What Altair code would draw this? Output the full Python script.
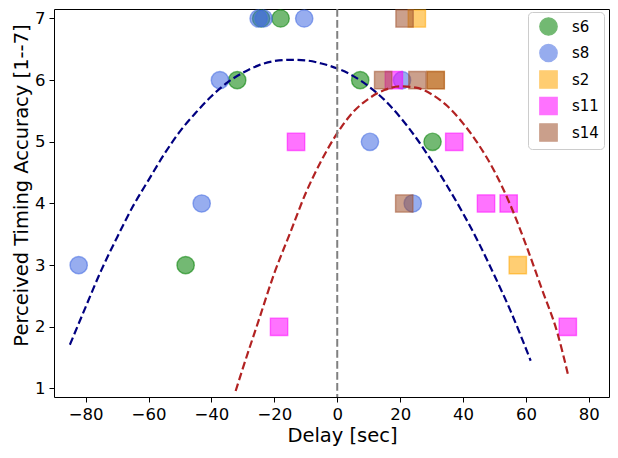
import altair as alt
import pandas as pd

# ---- data ----
series_order = ["s6", "s8", "s2", "s11", "s14"]
series_colors = ["#008000", "#4169e1", "#ffa500", "#ff00ff", "#a0522d"]
series_shapes = ["circle", "circle", "square", "square", "square"]

s6_x = [-24.2, -18.0, -31.8, -48.2, 7.3, 30.3]
s6_y = [7, 7, 6, 3, 6, 5]
s8_x = [-82.2, -43.1, -37.3, -25.0, -23.4, -10.5, 10.4, 20.6, 24.0]
s8_y = [3, 4, 6, 7, 7, 7, 5, 6, 4]
s2_x = [25.3, 31.3, 57.4]
s2_y = [7, 6, 3]
s11_x = [-13.1, -18.5, 18.0, 37.2, 47.3, 54.5, 73.3]
s11_y = [5, 2, 6, 5, 4, 4, 2]
s14_x = [21.4, 14.6, 25.5, 31.3, 21.3]
s14_y = [7, 6, 6, 6, 4]

# dashed fit curves
blue_x = [-85, -80, -75, -70, -65, -60, -55, -50, -45, -40, -35, -30, -25, -20, -15,
          -10, -5, 0, 5, 10, 15, 20, 25, 30, 35, 40, 45, 50, 55, 61.5]
blue_y = [1.71, 2.32, 2.92, 3.45, 3.95, 4.38, 4.80, 5.17, 5.47, 5.74, 5.96, 6.12, 6.24,
          6.31, 6.33, 6.32, 6.27, 6.19, 6.07, 5.90, 5.68, 5.40, 5.07, 4.69, 4.28, 3.84,
          3.36, 2.83, 2.27, 1.45]
red_x = [-32.3, -30, -25, -20, -15, -10, -5, 0, 5, 10, 15, 20, 25, 30, 35, 40, 45, 50,
         55, 60, 65, 70, 73.3]
red_y = [0.96, 1.33, 2.10, 2.87, 3.52, 4.17, 4.70, 5.14, 5.48, 5.70, 5.84, 5.90, 5.88,
         5.77, 5.58, 5.30, 4.95, 4.52, 3.98, 3.33, 2.62, 1.90, 1.24]

x_ticks = [-80, -60, -40, -20, 0, 20, 40, 60, 80]
y_ticks = [1, 2, 3, 4, 5, 6, 7]
vline_x = [0]

# ---- tables ----
rows = []
for name, xs, ys in [("s6", s6_x, s6_y), ("s8", s8_x, s8_y), ("s2", s2_x, s2_y),
                     ("s11", s11_x, s11_y), ("s14", s14_x, s14_y)]:
    for xv, yv in zip(xs, ys):
        rows.append({"series": name, "x": xv, "y": yv})
pts = pd.DataFrame(rows)
blue = pd.DataFrame({"x": blue_x, "y": blue_y})
red = pd.DataFrame({"x": red_x, "y": red_y})
vline = pd.DataFrame({"x": vline_x})

x_scale = alt.Scale(domain=[-90.05, 86.4], nice=False, zero=False)
y_scale = alt.Scale(domain=[0.862, 7.154], nice=False, zero=False)

x_axis = alt.Axis(values=x_ticks, title="Delay [sec]", labelPadding=4,
                  titleX=288, titleY=44, titleBaseline="alphabetic", titleAlign="center")
y_axis = alt.Axis(values=y_ticks, title="Perceived Timing Accuracy [1--7]", labelPadding=4,
                  titleX=-27, titleY=176, titleAngle=270, titleBaseline="alphabetic",
                  titleAlign="center")

x_enc = alt.X("x:Q", scale=x_scale, axis=x_axis)
y_enc = alt.Y("y:Q", scale=y_scale, axis=y_axis)

leg = alt.Legend(title=None, orient="none", legendX=474, legendY=3)

points = alt.Chart(pts).mark_point(
    filled=True, opacity=1, fillOpacity=0.55, strokeOpacity=0.55, size=300, strokeWidth=1.4
).encode(
    x=x_enc,
    y=y_enc,
    color=alt.Color("series:N", scale=alt.Scale(domain=series_order, range=series_colors), legend=leg),
    stroke=alt.Stroke("series:N", scale=alt.Scale(domain=series_order, range=series_colors), legend=leg),
    shape=alt.Shape("series:N", scale=alt.Scale(domain=series_order, range=series_shapes), legend=leg),
)

blue_line = alt.Chart(blue).mark_line(
    color="#000080", strokeWidth=2.2, strokeDash=[7.7, 3.6], interpolate="monotone"
).encode(x=x_enc, y=y_enc)

red_line = alt.Chart(red).mark_line(
    color="#b22222", strokeWidth=2.2, strokeDash=[7.7, 3.6], interpolate="monotone"
).encode(x=x_enc, y=y_enc)

zero_line = alt.Chart(vline).mark_rule(
    color="#808080", strokeWidth=2, strokeDash=[7.7, 3.3]
).encode(x=x_enc)

chart = alt.layer(points, blue_line, red_line, zero_line).properties(
    width=555, height=388,
    autosize=alt.AutoSizeParams(type="none"),
    padding={"left": 46, "top": 1, "right": 1, "bottom": 49},
).configure_view(
    stroke="black", strokeWidth=1
).configure_axis(
    labelFont="DejaVu Sans", titleFont="DejaVu Sans", labelFontSize=16.5, titleFontSize=19.5,
    labelColor="black", titleColor="black", tickColor="black", tickSize=5, tickWidth=1,
    grid=False, domain=False, titleFontWeight="normal", labelOverlap=False, labelFlush=False
).configure_legend(
    labelFont="DejaVu Sans", labelFontSize=15, labelColor="black", padding=5,
    symbolOffset=6, labelOffset=14, rowPadding=3.5, symbolSize=300, symbolStrokeWidth=1.4,
    symbolOpacity=0.55, strokeColor="#cccccc", fillColor="white", cornerRadius=4
)

chart.save("out.html", embed_options={"renderer": "svg", "actions": False})
